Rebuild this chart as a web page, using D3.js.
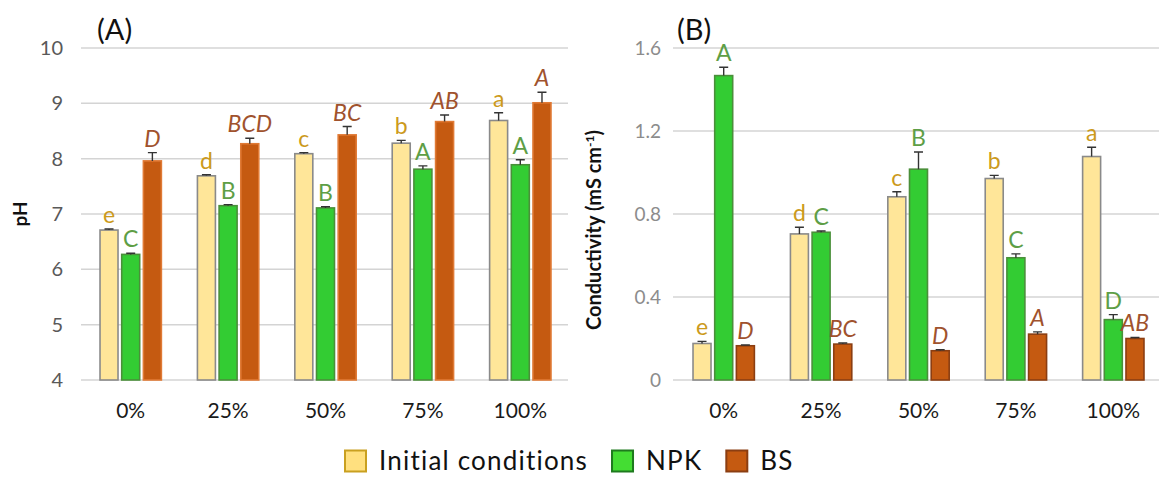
<!DOCTYPE html>
<meta charset="utf-8">
<script src="https://d3js.org/d3.v7.min.js"></script>
<style>
    body { margin: 0; background: white; }
    text { font-family: Lato, "Open Sans", sans-serif; }
</style>
<div id="chart"></div>
<script>
    // categories and series
    var categories = ["0%", "25%", "50%", "75%", "100%"];
    var seriesNames = ["Initial conditions", "NPK", "BS"];

    // (A) pH
    var phTicks = [4, 5, 6, 7, 8, 9, 10];
    var phInitial = [6.71, 7.69, 8.09, 8.28, 8.69];
    var phInitialErr = [0.02, 0.02, 0.02, 0.05, 0.14];
    var phNpk = [6.27, 7.15, 7.11, 7.81, 7.89];
    var phNpkErr = [0.02, 0.02, 0.02, 0.06, 0.09];
    var phBs = [7.96, 8.27, 8.43, 8.67, 9.01];
    var phBsErr = [0.15, 0.1, 0.15, 0.12, 0.19];
    var phInitialLetters = ["e", "d", "c", "b", "a"];
    var phNpkLetters = ["C", "B", "B", "A", "A"];
    var phBsLetters = ["D", "BCD", "BC", "AB", "A"];

    // (B) conductivity
    var ecTicks = [0, 0.4, 0.8, 1.2, 1.6];
    var ecInitial = [0.176, 0.704, 0.883, 0.971, 1.077];
    var ecInitialErr = [0.01, 0.032, 0.024, 0.015, 0.045];
    var ecNpk = [1.467, 0.712, 1.016, 0.589, 0.291];
    var ecNpkErr = [0.04, 0.006, 0.083, 0.019, 0.024];
    var ecBs = [0.165, 0.173, 0.141, 0.221, 0.2];
    var ecBsErr = [0.004, 0.005, 0.005, 0.011, 0.005];
    var ecInitialLetters = ["e", "d", "c", "b", "a"];
    var ecNpkLetters = ["A", "C", "B", "C", "D"];
    var ecBsLetters = ["D", "BC", "D", "A", "AB"];

    var fills = ["#FFE699", "#33CC33", "#C55A11"];
    var letterColors = ["#CC9A1C", "#5E9E46", "#A0522D"];

    var svg = d3.select("#chart").append("svg")
        .attr("width", 1159)
        .attr("height", 477);

    function panel(opt) {
        var g = svg.append("g");
        var x = d3.scaleBand().domain(categories)
            .range(opt.xRange).paddingInner(0.37).paddingOuter(0.185);
        var xs = d3.scaleBand().domain(seriesNames)
            .range([0, x.bandwidth()]).paddingInner(0.17);
        var y = d3.scaleLinear().domain(opt.yDomain).range([380, 48]);

        // gridlines
        g.selectAll(".grid").data(opt.ticks).enter().append("line")
            .attr("x1", opt.gridX[0]).attr("x2", opt.gridX[1])
            .attr("y1", function(d) { return y(d); })
            .attr("y2", function(d) { return y(d); })
            .attr("stroke", "#d4d4d4").attr("stroke-width", 1.5);

        // tick labels
        g.selectAll(".tick").data(opt.ticks).enter().append("text")
            .attr("x", opt.tickX)
            .attr("y", function(d) { return y(d); })
            .attr("dy", "0.35em")
            .attr("text-anchor", "end")
            .style("font-size", opt.tickSize + "px")
            .style("fill", opt.tickColor)
            .text(function(d) { return d; });

        // category labels
        g.selectAll(".cat").data(categories).enter().append("text")
            .attr("x", function(d) { return x(d) + x.bandwidth() / 2; })
            .attr("y", 418)
            .attr("text-anchor", "middle")
            .style("font-size", "21px")
            .style("fill", "#1a1a1a")
            .text(function(d) { return d; });

        opt.series.forEach(function(s, si) {
            var name = seriesNames[si];
            var sg = g.append("g");
            sg.selectAll("rect").data(categories).enter().append("rect")
                .attr("x", function(d) { return x(d) + xs(name); })
                .attr("width", xs.bandwidth())
                .attr("y", function(d, i) { return y(s.values[i]); })
                .attr("height", function(d, i) { return y(opt.yDomain[0]) - y(s.values[i]); })
                .attr("fill", fills[si])
                .attr("stroke", opt.strokes[si])
                .attr("stroke-width", 1.6);
            // error bars (upper only)
            sg.selectAll(".err").data(categories).enter().append("path")
                .attr("d", function(d, i) {
                    var cx = x(d) + xs(name) + xs.bandwidth() / 2;
                    var y0 = y(s.values[i]), y1 = y(s.values[i] + s.err[i]);
                    return "M" + cx + "," + y0 + "V" + y1 + "M" + (cx - 4.5) + "," + y1 + "H" + (cx + 4.5);
                })
                .attr("stroke", "#333").attr("stroke-width", 1.4).attr("fill", "none");
            // significance letters
            sg.selectAll(".lab").data(categories).enter().append("text")
                .attr("x", function(d) { return x(d) + xs(name) + xs.bandwidth() / 2; })
                .attr("y", function(d, i) { return y(s.values[i] + s.err[i]) - 6; })
                .attr("text-anchor", "middle")
                .style("font-size", "23px")
                .style("font-style", si === 2 ? "italic" : "normal")
                .style("fill", letterColors[si])
                .text(function(d, i) { return s.letters[i]; });
        });

        // panel tag
        g.append("text").attr("x", opt.tagX).attr("y", 40)
            .style("font-size", "29px").style("fill", "#111")
            .text(opt.tag);

        // axis title
        g.append("text")
            .attr("transform", "translate(" + opt.titleX + "," + opt.titleY + ") rotate(-90)")
            .attr("text-anchor", "middle")
            .style("font-size", opt.titleSize + "px")
            .style("font-weight", "bold")
            .style("fill", "#111")
            .html(opt.title);
    }

    panel({
        tag: "(A)", tagX: 97,
        xRange: [82, 569], gridX: [81, 568],
        yDomain: [4, 10], ticks: phTicks,
        tickX: 63, tickSize: 20, tickColor: "#595959",
        title: "pH", titleX: 27, titleY: 214, titleSize: 19,
        strokes: ["#8a8a8a", "#4a8f3a", "#E07A35"],
        series: [
            {values: phInitial, err: phInitialErr, letters: phInitialLetters},
            {values: phNpk, err: phNpkErr, letters: phNpkLetters},
            {values: phBs, err: phBsErr, letters: phBsLetters}
        ]
    });

    panel({
        tag: "(B)", tagX: 677,
        xRange: [675, 1162], gridX: [673, 1159],
        yDomain: [0, 1.6], ticks: ecTicks,
        tickX: 661, tickSize: 19, tickColor: "#8c8c8c",
        title: "Conductivity (mS cm<tspan dy='-7' font-size='12'>-1</tspan><tspan dy='7'>)</tspan>",
        titleX: 601, titleY: 230, titleSize: 20,
        strokes: ["#8a8a8a", "#4a8f3a", "#8B3E12"],
        series: [
            {values: ecInitial, err: ecInitialErr, letters: ecInitialLetters},
            {values: ecNpk, err: ecNpkErr, letters: ecNpkLetters},
            {values: ecBs, err: ecBsErr, letters: ecBsLetters}
        ]
    });

    // legend
    var legendFills = ["#FFE07F", "#44DD33", "#C55A11"];
    var legendStrokes = ["#C9A020", "#1E7A1E", "#8B3E12"];
    var legend = svg.append("g").attr("transform", "translate(0,461)");
    var lx = 345;
    seriesNames.forEach(function(name, i) {
        legend.append("rect")
            .attr("x", lx).attr("y", -10.5).attr("width", 21).attr("height", 21)
            .attr("fill", legendFills[i]).attr("stroke", legendStrokes[i]).attr("stroke-width", 2);
        var t = legend.append("text")
            .attr("x", lx + 34).attr("y", 0).attr("dy", "0.35em")
            .style("font-size", "26px").style("letter-spacing", "1.2px").style("fill", "#111")
            .text(name);
        lx += 34 + t.node().getComputedTextLength() + 24;
    });
</script>
